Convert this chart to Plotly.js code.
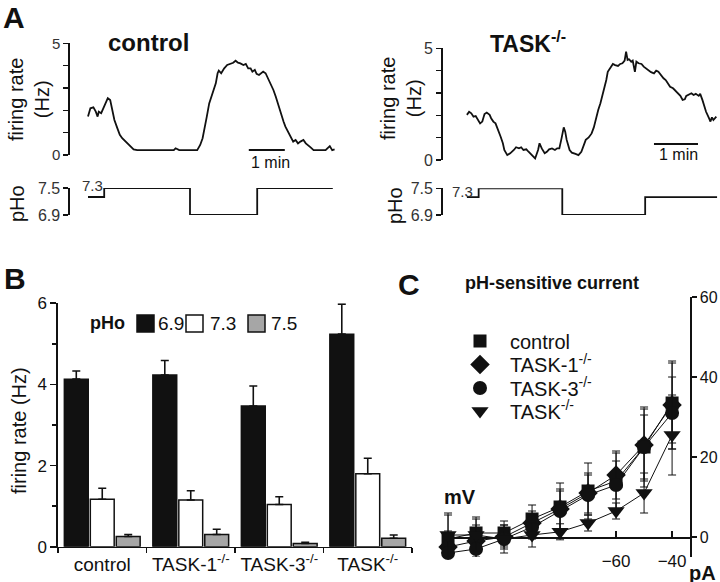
<!DOCTYPE html>
<html><head><meta charset="utf-8">
<script src="https://cdn.plot.ly/plotly-3.0.1.min.js"></script>
<style>html,body{margin:0;padding:0;background:#fff}#chart{width:720px;height:582px}</style>
</head><body><div id="chart"></div>
<script>
// ---------- Panel A : control (time in s, firing rate in Hz) ----------
const ctrlTime = [0,4,9,13,16,18,22,26,28,31,33,37,41,44,49,53,57,63,68,76,82,104,127,143,146,152,182,187,191,194,198,202,207,213,216,218,222,227,232,238,242,246,250,254,259,263,267,271,274,278,281,285,289,292,296,300,304,309,313,317,321,326,329,333,338,342,346,350,354,359,363,367,371,376,382,396,399,403,407,411];
const ctrlRate = [1.72,2.09,2.13,1.94,1.72,1.94,1.87,2.09,2.19,2.39,2.54,2.46,2.02,1.57,1.19,0.90,0.75,0.60,0.45,0.25,0.22,0.22,0.22,0.22,0.30,0.22,0.22,0.45,0.75,1.12,1.72,2.31,2.76,3.21,3.66,3.78,3.66,3.88,4.03,4.08,4.13,4.22,4.13,4.10,4.03,4.08,3.88,3.88,3.73,3.81,3.63,3.58,3.66,3.73,3.66,3.43,3.21,2.91,2.61,2.24,1.87,1.49,1.27,1.04,0.82,0.60,0.67,0.52,0.60,0.67,0.52,0.45,0.34,0.22,0.22,0.22,0.30,0.40,0.22,0.25];
const ctrlPhTime = [0,27,170,282,408];
const ctrlPh = [7.3,7.5,6.9,7.5,7.5];

// ---------- Panel A : TASK-/- ----------
const koTime = [0,3,6,9,12,15,18,21,24,27,31,33,36,39,42,46,49,51,55,59,64,67,71,74,77,81,84,88,91,93,97,99,102,106,109,112,116,120,123,126,129,132,134,136,140,143,148,152,156,159,162,166,170,173,176,179,182,185,188,190,192,196,199,202,206,209,212,215,217,219,221,224,226,229,231,234,238,241,244,248,251,255,258,261,265,268,271,274,277,281,284,288,291,294,297,299,302,306,309,312,316,318,321,323,326,330,332,334,336,340];
const koRate = [2.02,2.16,2.09,1.94,1.97,1.79,1.64,1.72,2.06,2.12,2.02,1.87,1.72,1.64,1.34,1.04,0.75,0.45,0.22,0.30,0.45,0.57,0.52,0.57,0.45,0.48,0.37,0.22,0.15,0.07,0.45,0.75,0.52,0.30,0.37,0.48,0.52,0.45,0.52,0.52,0.97,1.46,1.27,0.90,0.45,0.33,0.27,0.22,0.37,0.63,0.90,1.01,1.19,1.46,1.87,2.24,2.54,2.91,3.21,3.58,3.95,4.18,4.30,4.25,4.21,4.30,4.33,4.45,4.85,4.48,4.51,4.40,4.45,3.95,4.40,4.33,4.30,4.18,4.10,4.00,3.93,3.88,4.00,3.95,3.76,3.66,3.58,3.43,3.28,3.21,3.10,2.99,2.87,2.69,2.72,2.87,2.91,2.99,2.91,2.96,2.87,2.96,2.69,2.46,2.16,1.87,1.72,1.91,1.79,1.94];
const koPhTime = [0,16,130,243,341];
const koPh = [7.3,7.5,6.9,7.3,7.3];

// ---------- Panel B ----------
const genotypes = ['control','TASK-1<sup>-/-</sup>','TASK-3<sup>-/-</sup>','TASK<sup>-/-</sup>'];
const rate69 = [4.13,4.23,3.47,5.24];
const err69  = [0.20,0.36,0.49,0.74];
const rate73 = [1.17,1.15,1.04,1.80];
const err73  = [0.27,0.23,0.19,0.38];
const rate75 = [0.25,0.30,0.08,0.21];
const err75  = [0.05,0.13,0.03,0.08];
const phLabels = ['6.9','7.3','7.5'];

// ---------- Panel C ----------
const mV = [-120,-110,-100,-90,-80,-70,-60,-50,-40];
const iControl = [-0.5,1,1,4.5,7.5,11.5,14,22.5,33.5];
const eControl = [6,4,3,3.5,6,7,7,10,10];
const iTask1 = [-2.5,-1,0,3.5,7,11,15.5,23,33];
const eTask1 = [4,4,3,3,5,5,6,9,11];
const iTask3 = [-4,-3,-0.5,2.5,6.5,10.5,13,22.5,31];
const eTask3 = [4,4,3.5,3,5,5,6,8,9];
const iTaskKO = [0.5,0.5,-0.5,0.5,1.3,3.5,6.5,11,25.5];
const eTaskKO = [5.5,4,2,3,2,2,2,5,10];
const cNames = ['control','TASK-1<sup>-/-</sup>','TASK-3<sup>-/-</sup>','TASK<sup>-/-</sup>'];

// ---------- helpers (pixel -> paper) ----------
const W = 720, H = 582;
const px = v => v / W;
const py = v => 1 - v / H;
const FONT = 'Liberation Sans, Arial, Helvetica, sans-serif';
const K = '#111';

const traces = [];
// Panel A traces
traces.push({x: ctrlTime, y: ctrlRate, xaxis:'x', yaxis:'y', type:'scatter', mode:'lines', line:{color:K, width:1.8}, showlegend:false, cliponaxis:false, hoverinfo:'skip'});
traces.push({x: ctrlPhTime, y: ctrlPh, xaxis:'x', yaxis:'y2', type:'scatter', mode:'lines', line:{color:K, width:1.8, shape:'hv'}, showlegend:false, cliponaxis:false, hoverinfo:'skip'});
traces.push({x: koTime, y: koRate, xaxis:'x2', yaxis:'y3', type:'scatter', mode:'lines', line:{color:K, width:1.8}, showlegend:false, cliponaxis:false, hoverinfo:'skip'});
traces.push({x: koPhTime, y: koPh, xaxis:'x2', yaxis:'y4', type:'scatter', mode:'lines', line:{color:K, width:1.8, shape:'hv'}, showlegend:false, cliponaxis:false, hoverinfo:'skip'});

// Panel B bars
const barFill = ['#111111','#ffffff','#a6a6a6'];
const rates = [rate69, rate73, rate75];
const errs = [err69, err73, err75];
for (let i = 0; i < 3; i++) {
  traces.push({type:'bar', x: genotypes, y: rates[i], name: phLabels[i], xaxis:'x3', yaxis:'y5',
    marker:{color: barFill[i], line:{color:K, width:1.5}},
    error_y:{type:'data', array: errs[i], arrayminus: errs[i].map(() => 0), symmetric:false, color:K, thickness:1.6, width:4},
    showlegend:false, cliponaxis:false, hoverinfo:'skip'});
}

// Panel C IV curves: connecting lines, then markers with error bars (one legend each)
const cY = [iControl, iTask1, iTask3, iTaskKO];
const cE = [eControl, eTask1, eTask3, eTaskKO];
const cSym = ['square','diamond','circle','triangle-down'];
const cSize = [13,15,14,15];
const cLegend = ['legend','legend2','legend3','legend4'];
for (let i = 0; i < 4; i++) {
  traces.push({type:'scatter', mode:'lines', x: mV, y: cY[i], xaxis:'x4', yaxis:'y6',
    line:{color:K, width:1}, showlegend:false, cliponaxis:false, hoverinfo:'skip'});
}
for (let i = 0; i < 4; i++) {
  traces.push({type:'scatter', mode:'markers', x: mV, y: cY[i], name: cNames[i], xaxis:'x4', yaxis:'y6',
    marker:{symbol:cSym[i], size:cSize[i], color:K},
    error_y:{type:'data', array:cE[i], color:K, thickness:1, width:4},
    legend: cLegend[i], showlegend:true, cliponaxis:false, hoverinfo:'skip'});
}

const hidden = {visible:false, fixedrange:true};
const axBase = {showline:true, linecolor:K, linewidth:1.6, ticks:'outside', tickcolor:K, tickwidth:1.6, showgrid:false, zeroline:false, fixedrange:true};
const legendRows = [341, 364.5, 388, 411];
function legendAt(row) {
  return {x:px(450), y:py(row), xanchor:'left', yanchor:'middle', font:{size:20, family:FONT, color:K},
          bgcolor:'rgba(0,0,0,0)', borderwidth:0, itemwidth:50, tracegroupgap:0};
}

const layout = {
  width: W, height: H,
  margin:{l:0, r:0, t:0, b:0},
  paper_bgcolor:'#fff', plot_bgcolor:'rgba(0,0,0,0)',
  font:{family:FONT, color:K, size:15},
  barmode:'group', bargap:0.12, bargroupgap:0.08,
  // Panel A control
  xaxis: Object.assign({}, hidden, {domain:[px(70), px(340)], range:[-30, 420], anchor:'y'}),
  yaxis: Object.assign({}, axBase, {domain:[py(155), py(43.3)], range:[0,5], anchor:'x', tick0:0, dtick:5, ticklen:5,
          minor:{dtick:1, ticks:'outside', ticklen:5, tickcolor:K, tickwidth:1.6}, tickfont:{size:15, color:'#333'}}),
  yaxis2: Object.assign({}, axBase, {domain:[py(215), py(188)], range:[6.9,7.5], anchor:'x', tickvals:[6.9,7.5], ticktext:['6.9','7.5'], ticklen:5, tickfont:{size:16, color:'#333'}}),
  // Panel A TASK-/-
  xaxis2: Object.assign({}, hidden, {domain:[px(442.7), px(720)], range:[-33, 345], anchor:'y3'}),
  yaxis3: Object.assign({}, axBase, {domain:[py(160), py(48.3)], range:[0,5], anchor:'x2', tick0:0, dtick:5, ticklen:5,
          minor:{dtick:1, ticks:'outside', ticklen:5, tickcolor:K, tickwidth:1.6}, tickfont:{size:16, color:'#333'}}),
  yaxis4: Object.assign({}, axBase, {domain:[py(215), py(188.3)], range:[6.9,7.5], anchor:'x2', tickvals:[6.9,7.5], ticktext:['6.9','7.5'], ticklen:5, tickfont:{size:16, color:'#333'}}),
  // Panel B
  xaxis3: Object.assign({}, axBase, {domain:[px(58), px(412)], anchor:'y5', type:'category', tickson:'boundaries', ticklen:5, tickangle:0, tickfont:{size:19}}),
  yaxis5: Object.assign({}, axBase, {domain:[py(546.7), py(303.3)], range:[0,6], anchor:'x3', tick0:0, dtick:2, ticklen:6,
          minor:{dtick:1, ticks:'outside', ticklen:4, tickcolor:K, tickwidth:1.6}, tickfont:{size:17}}),
  // Panel C
  xaxis4: Object.assign({}, axBase, {domain:[px(443), px(690)], range:[-121.8, -33.6], anchor:'free', position: py(537),
          tickvals:[-60,-40], ticks:'inside', ticklen:6, ticklabelstandoff:8, tickfont:{size:17}}),
  yaxis6: Object.assign({}, axBase, {domain:[py(557), py(297)], range:[-5, 60], anchor:'free', position: px(690), side:'right',
          tickvals:[0,20,40,60], ticklen:5, tickfont:{size:16}}),
  showlegend:true,
  legend: legendAt(legendRows[0]),
  legend2: legendAt(legendRows[1]),
  legend3: legendAt(legendRows[2]),
  legend4: legendAt(legendRows[3]),
  shapes:[
    // scale bars (1 min)
    {type:'line', xref:'x', yref:'y', x0:268, x1:328, y0:0.22, y1:0.22, line:{color:K, width:2}},
    {type:'line', xref:'x2', yref:'y3', x0:255, x1:315, y0:0.72, y1:0.72, line:{color:K, width:2}},
    // Panel B legend swatches
    {type:'rect', xref:'paper', yref:'paper', x0:px(137), x1:px(154), y0:py(332), y1:py(315), fillcolor:barFill[0], line:{color:K, width:1.5}},
    {type:'rect', xref:'paper', yref:'paper', x0:px(186), x1:px(203), y0:py(332), y1:py(315), fillcolor:barFill[1], line:{color:K, width:1.5}},
    {type:'rect', xref:'paper', yref:'paper', x0:px(248), x1:px(265), y0:py(332), y1:py(315), fillcolor:barFill[2], line:{color:K, width:1.5}}
  ],
  annotations:[]
};

function ann(text, x, y, size, opts) {
  return Object.assign({text, xref:'paper', yref:'paper', x:px(x), y:py(y), showarrow:false, xanchor:'center', yanchor:'middle', font:{size, family:FONT, color:K}}, opts || {});
}
const A = layout.annotations;
A.push(ann('<b>A</b>', 14, 17, 30));
A.push(ann('<b>B</b>', 15, 278, 30));
A.push(ann('<b>C</b>', 409, 284, 30));
A.push(ann('<b>control</b>', 148, 43, 24));
A.push(ann('<b>TASK<sup>-/-</sup></b>', 488, 42, 23, {xanchor:'left'}));
A.push(ann('firing rate<br>(Hz)', 29, 100, 20, {textangle:-90}));
A.push(ann('firing rate<br>(Hz)', 401, 99, 20, {textangle:-90}));
A.push(ann('pHo', 17, 204, 20, {textangle:-90}));
A.push(ann('pHo', 395, 206, 20, {textangle:-90}));
A.push(ann('1 min', 270, 162, 16));
A.push(ann('1 min', 678, 155, 16));
A.push(ann('7.3', 92.5, 185.5, 15, {font:{size:15, family:FONT, color:'#333'}}));
A.push(ann('7.3', 462.5, 191.5, 15, {font:{size:15, family:FONT, color:'#333'}}));
A.push(ann('firing rate (Hz)', 19, 431, 20, {textangle:-90}));
A.push(ann('<b>pHo</b>', 107, 323, 18));
A.push(ann(phLabels[0], 156, 323, 19, {xanchor:'left'}));
A.push(ann(phLabels[1], 208, 323, 19, {xanchor:'left'}));
A.push(ann(phLabels[2], 269, 323, 19, {xanchor:'left'}));
A.push(ann('<b>pH-sensitive current</b>', 552, 283, 18));
A.push(ann('<b>mV</b>', 460, 497, 20));
A.push(ann('<b>pA</b>', 702, 573, 20));

Plotly.newPlot('chart', traces, layout, {displayModeBar:false, staticPlot:true});
</script>
</body></html>
